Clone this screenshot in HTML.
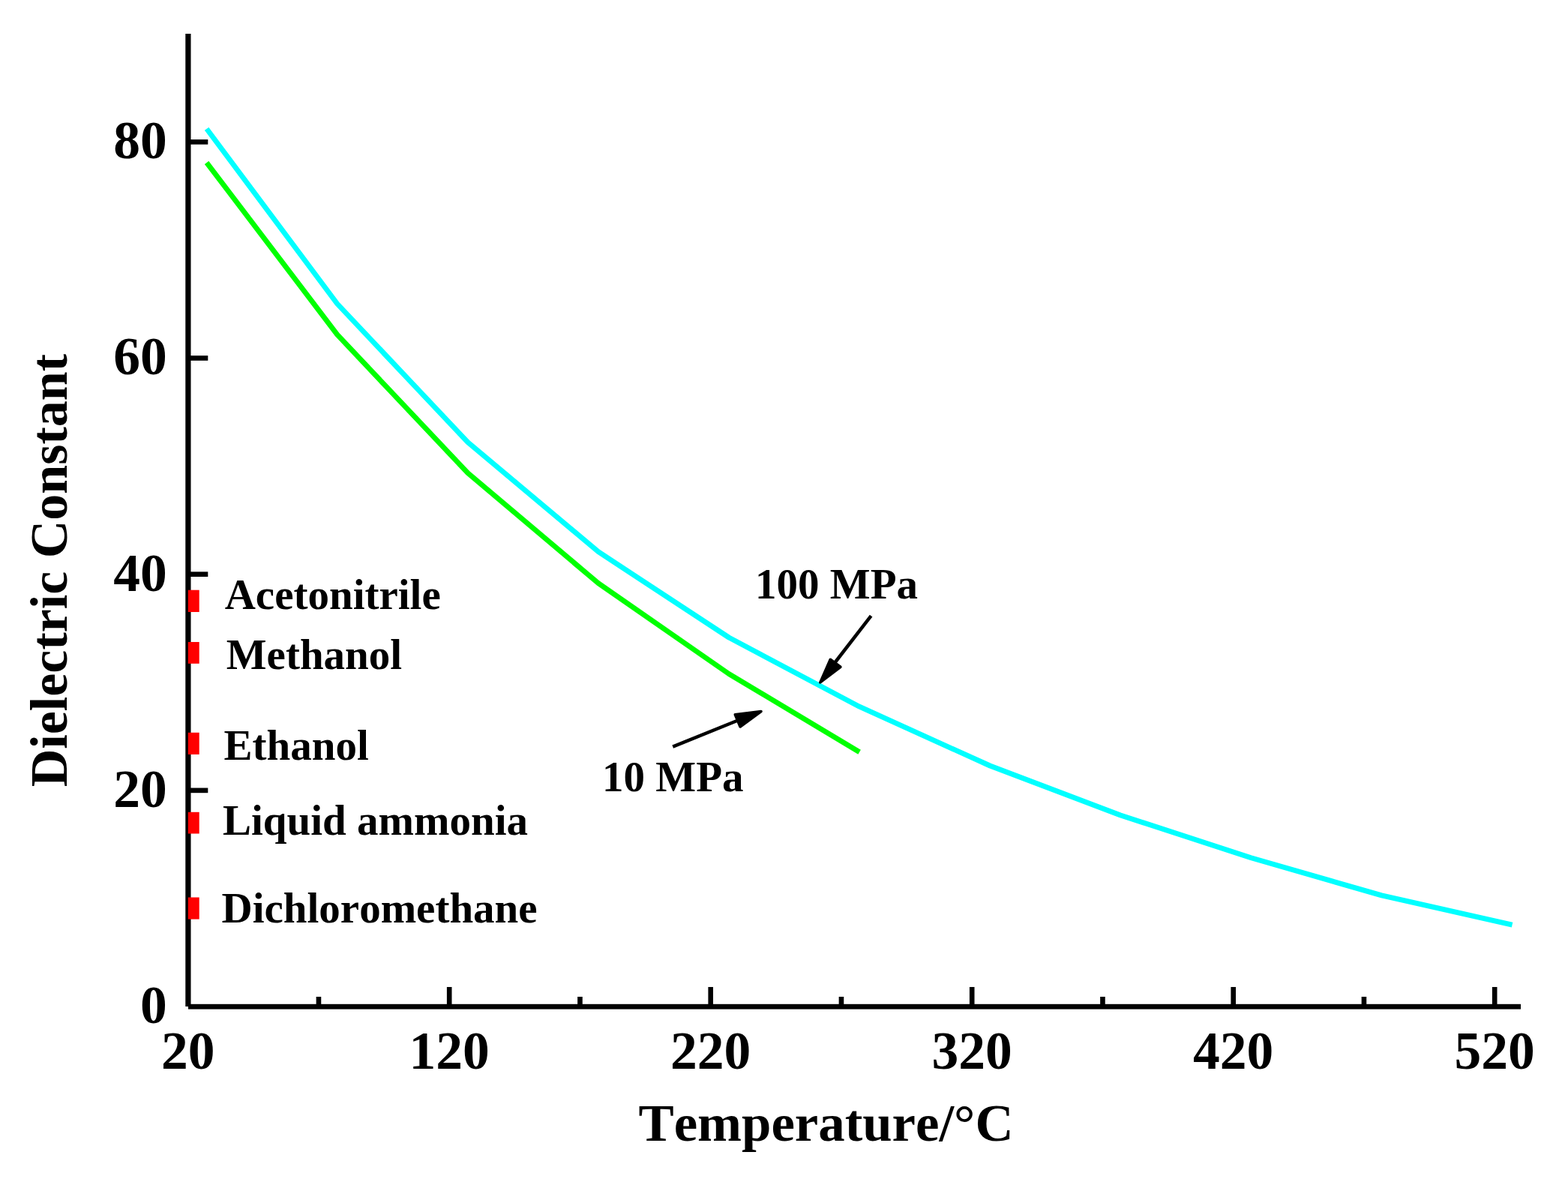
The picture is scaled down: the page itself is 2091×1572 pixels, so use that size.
<!DOCTYPE html>
<html><head><meta charset="utf-8"><title>Dielectric Constant vs Temperature</title>
<style>html,body{margin:0;padding:0;background:#fff;width:2091px;height:1572px;overflow:hidden}svg{display:block}text{font-kerning:none}</style>
</head><body>
<svg width="2091" height="1572" viewBox="0 0 2091 1572">
<rect width="2091" height="1572" fill="#fff"/>
<polyline points="275.6,171.8 449.7,405.0 623.8,589.7 797.9,735.7 972.0,850.0 1146.1,942.2 1320.2,1021.0 1494.3,1087.0 1668.4,1143.7 1842.5,1193.9 2016.6,1233.2" fill="none" stroke="#00ffff" stroke-width="6.9" stroke-linejoin="round"/>
<polyline points="275.6,216.8 449.7,446.2 623.8,630.7 797.9,777.7 972.0,898.5 1146.1,1002.7" fill="none" stroke="#00ff00" stroke-width="6.9" stroke-linejoin="round"/>
<rect x="247.3" y="45" width="7.2" height="1297" fill="#000"/>
<rect x="251" y="1338.8" width="1777" height="6.8" fill="#000"/>
<rect x="254" y="185.95" width="23.3" height="6.65" fill="#000"/>
<rect x="254" y="474.15" width="23.3" height="6.65" fill="#000"/>
<rect x="254" y="762.35" width="23.3" height="6.65" fill="#000"/>
<rect x="254" y="1050.55" width="23.3" height="6.65" fill="#000"/>
<rect x="595.90" y="1316" width="6.6" height="24" fill="#000"/>
<rect x="944.40" y="1316" width="6.6" height="24" fill="#000"/>
<rect x="1292.90" y="1316" width="6.6" height="24" fill="#000"/>
<rect x="1641.40" y="1316" width="6.6" height="24" fill="#000"/>
<rect x="1989.90" y="1316" width="6.6" height="24" fill="#000"/>
<rect x="421.65" y="1329" width="6.6" height="11" fill="#000"/>
<rect x="770.15" y="1329" width="6.6" height="11" fill="#000"/>
<rect x="1118.65" y="1329" width="6.6" height="11" fill="#000"/>
<rect x="1467.15" y="1329" width="6.6" height="11" fill="#000"/>
<rect x="1815.65" y="1329" width="6.6" height="11" fill="#000"/>
<rect x="250.8" y="786.7" width="14.9" height="29.3" fill="#ff0000"/>
<rect x="250.8" y="856" width="14.9" height="28.8" fill="#ff0000"/>
<rect x="250.8" y="976.8" width="14.9" height="29.1" fill="#ff0000"/>
<rect x="250.8" y="1082.8" width="14.9" height="28.7" fill="#ff0000"/>
<rect x="250.8" y="1196.5" width="14.9" height="29.1" fill="#ff0000"/>
<text x="222.7" y="211.2" font-family="'Liberation Serif', 'Times New Roman', serif" font-weight="bold" font-size="71.5" text-anchor="end">80</text>
<text x="222.7" y="499.4" font-family="'Liberation Serif', 'Times New Roman', serif" font-weight="bold" font-size="71.5" text-anchor="end">60</text>
<text x="222.7" y="787.6" font-family="'Liberation Serif', 'Times New Roman', serif" font-weight="bold" font-size="71.5" text-anchor="end">40</text>
<text x="222.7" y="1075.8" font-family="'Liberation Serif', 'Times New Roman', serif" font-weight="bold" font-size="71.5" text-anchor="end">20</text>
<text x="222.7" y="1364.0" font-family="'Liberation Serif', 'Times New Roman', serif" font-weight="bold" font-size="71.5" text-anchor="end">0</text>
<text x="250.7" y="1425" font-family="'Liberation Serif', 'Times New Roman', serif" font-weight="bold" font-size="71.5" text-anchor="middle">20</text>
<text x="599.2" y="1425" font-family="'Liberation Serif', 'Times New Roman', serif" font-weight="bold" font-size="71.5" text-anchor="middle">120</text>
<text x="947.7" y="1425" font-family="'Liberation Serif', 'Times New Roman', serif" font-weight="bold" font-size="71.5" text-anchor="middle">220</text>
<text x="1296.2" y="1425" font-family="'Liberation Serif', 'Times New Roman', serif" font-weight="bold" font-size="71.5" text-anchor="middle">320</text>
<text x="1644.7" y="1425" font-family="'Liberation Serif', 'Times New Roman', serif" font-weight="bold" font-size="71.5" text-anchor="middle">420</text>
<text x="1993.2" y="1425" font-family="'Liberation Serif', 'Times New Roman', serif" font-weight="bold" font-size="71.5" text-anchor="middle">520</text>
<text x="1101.5" y="1521" font-family="'Liberation Serif', 'Times New Roman', serif" font-weight="bold" font-size="70.8" text-anchor="middle">Temperature/°C</text>
<text transform="translate(89,760.6) rotate(-90)" x="0" y="0" font-family="'Liberation Serif', 'Times New Roman', serif" font-weight="bold" font-size="70" text-anchor="middle">Dielectric Constant</text>
<text x="299.7" y="811.7" font-family="'Liberation Serif', 'Times New Roman', serif" font-weight="bold" font-size="57">Acetonitrile</text>
<text x="301.8" y="892.2" font-family="'Liberation Serif', 'Times New Roman', serif" font-weight="bold" font-size="57">Methanol</text>
<text x="298.5" y="1013.3" font-family="'Liberation Serif', 'Times New Roman', serif" font-weight="bold" font-size="57">Ethanol</text>
<text x="297" y="1112.7" font-family="'Liberation Serif', 'Times New Roman', serif" font-weight="bold" font-size="57">Liquid ammonia</text>
<text x="295.5" y="1229.7" font-family="'Liberation Serif', 'Times New Roman', serif" font-weight="bold" font-size="57">Dichloromethane</text>
<text x="1007.1" y="797.8" font-family="'Liberation Serif', 'Times New Roman', serif" font-weight="bold" font-size="57">100 MPa</text>
<text x="803.1" y="1054.9" font-family="'Liberation Serif', 'Times New Roman', serif" font-weight="bold" font-size="57">10 MPa</text>
<line x1="1161.6" y1="821.2" x2="1113" y2="884" stroke="#000" stroke-width="4.5"/>
<polygon points="1093.8,909.9 1107.3,879.3 1120.9,889.2" fill="#000" stroke="#000" stroke-width="3.6" stroke-linejoin="round"/>
<line x1="897.2" y1="995.7" x2="984" y2="960.5" stroke="#000" stroke-width="4.5"/>
<polygon points="1015.0,948.6 980.3,952.9 987.1,969.0" fill="#000" stroke="#000" stroke-width="3.6" stroke-linejoin="round"/>
</svg>
</body></html>
